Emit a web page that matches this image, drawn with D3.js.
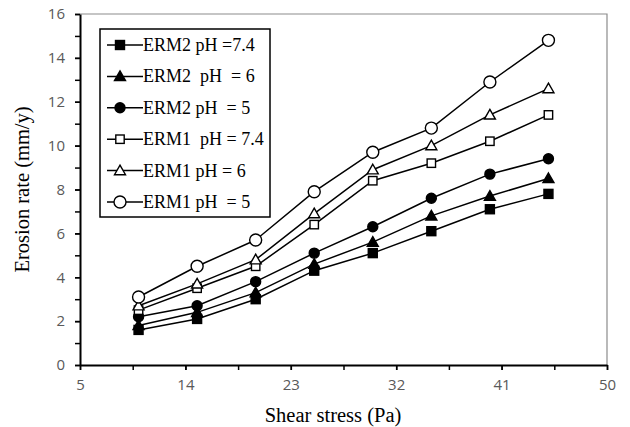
<!DOCTYPE html>
<html>
<head>
<meta charset="utf-8">
<script src="https://cdn.jsdelivr.net/npm/d3@7"></script>
<style>
  body { margin: 0; background: #fff; }
  svg { display: block; }
  .tick text { font-family: "Open Sans", "Liberation Sans", sans-serif; font-size: 15px; fill: #595959; }
</style>
</head>
<body>
<div id="root"></div>
<script>
let shear = [10, 15, 20, 25, 30, 35, 40, 45];

let erm2ph74 = [1.6, 2.1, 3.0, 4.3, 5.1, 6.1, 7.1, 7.8];
let erm2ph6  = [1.8, 2.4, 3.3, 4.6, 5.6, 6.8, 7.7, 8.5];
let erm2ph5  = [2.2, 2.7, 3.8, 5.1, 6.3, 7.6, 8.7, 9.4];
let erm1ph74 = [2.5, 3.5, 4.5, 6.4, 8.4, 9.2, 10.2, 11.4];
let erm1ph6  = [2.7, 3.7, 4.8, 6.9, 8.9, 10.0, 11.4, 12.6];
let erm1ph5  = [3.1, 4.5, 5.7, 7.9, 9.7, 10.8, 12.9, 14.8];

let xTicks = [5, 14, 23, 32, 41, 50];
let yTicks = [0, 2, 4, 6, 8, 10, 12, 14, 16];

let series = [
    {name: 'ERM2 pH =7.4', values: erm2ph74, shape: 'square', filled: true},
    {name: 'ERM2  pH  = 6', values: erm2ph6, shape: 'triangle', filled: true},
    {name: 'ERM2 pH  = 5', values: erm2ph5, shape: 'circle', filled: true},
    {name: 'ERM1  pH = 7.4', values: erm1ph74, shape: 'square', filled: false},
    {name: 'ERM1 pH = 6', values: erm1ph6, shape: 'triangle', filled: false},
    {name: 'ERM1 pH  = 5', values: erm1ph5, shape: 'circle', filled: false},
];

let width = 630, height = 427;
let margin = {left: 80, right: 23, top: 14, bottom: 62};

let x = d3.scaleLinear().domain([5, 50]).range([margin.left, width - margin.right]);
let y = d3.scaleLinear().domain([0, 16]).range([height - margin.bottom, margin.top]);

let svg = d3.select('#root').append('svg')
    .attr('width', width)
    .attr('height', height);

// plot frame (top / right in grey)
svg.append('path')
    .attr('d', `M${x(5)},${y(16)}H${x(50)}V${y(0)}`)
    .attr('fill', 'none')
    .attr('stroke', '#8c8c8c')
    .attr('stroke-width', 1.2);

// minor ticks
let xMinor = d3.range(5, 50.1, 4.5);
let yMinor = d3.range(0, 16.1, 1);

svg.append('g')
    .attr('transform', `translate(0,${y(0)})`)
    .call(d3.axisBottom(x).tickValues(xMinor).tickSize(5).tickFormat(''))
    .call(g => g.select('.domain').remove())
    .selectAll('line').attr('stroke', '#000').attr('stroke-width', 1.5);

svg.append('g')
    .attr('transform', `translate(${x(5)},0)`)
    .call(d3.axisLeft(y).tickValues(yMinor).tickSize(5).tickFormat(''))
    .call(g => g.select('.domain').remove())
    .selectAll('line').attr('stroke', '#000').attr('stroke-width', 1.5);

// major axes
let xAxis = svg.append('g')
    .attr('transform', `translate(0,${y(0)})`)
    .call(d3.axisBottom(x).tickValues(xTicks).tickSize(5).tickSizeOuter(0).tickPadding(9));
xAxis.select('.domain').attr('stroke', '#000').attr('stroke-width', 2);
xAxis.selectAll('line').attr('stroke', '#000').attr('stroke-width', 1.5);

let yAxis = svg.append('g')
    .attr('transform', `translate(${x(5)},0)`)
    .call(d3.axisLeft(y).tickValues(yTicks).tickSize(5).tickSizeOuter(0).tickPadding(10));
yAxis.select('.domain').attr('stroke', '#000').attr('stroke-width', 2);
yAxis.selectAll('line').attr('stroke', '#000').attr('stroke-width', 1.5);

// axis titles
svg.append('text')
    .attr('x', 333)
    .attr('y', 422)
    .attr('text-anchor', 'middle')
    .style('font-family', '"Liberation Serif", "Times New Roman", serif')
    .style('font-size', '20.5px')
    .text('Shear stress (Pa)');

svg.append('text')
    .attr('transform', `translate(29,${(y(0) + y(16)) / 2}) rotate(-90)`)
    .attr('text-anchor', 'middle')
    .style('font-family', '"Liberation Serif", "Times New Roman", serif')
    .style('font-size', '20.5px')
    .text('Erosion rate (mm/y)');

function drawMarker(sel, s) {
    let fill = s.filled ? '#000' : '#fff';
    if (s.shape === 'square') {
        let r = s.filled ? 4.5 : 4.2;
        sel.append('rect')
            .attr('x', -r).attr('y', -r)
            .attr('width', 2 * r).attr('height', 2 * r)
            .attr('fill', fill).attr('stroke', '#000').attr('stroke-width', 1.4);
    } else if (s.shape === 'triangle') {
        let r = 5.5;
        sel.append('path')
            .attr('d', `M0,${-r}L${r},${r * 0.75}L${-r},${r * 0.75}Z`)
            .attr('fill', fill).attr('stroke', '#000').attr('stroke-width', 1.4);
    } else {
        let r = s.filled ? 5 : 6;
        sel.append('circle')
            .attr('r', r)
            .attr('fill', fill).attr('stroke', '#000').attr('stroke-width', 1.4);
    }
}

let line = d3.line()
    .x((d, i) => x(shear[i]))
    .y(d => y(d));

let seriesG = svg.append('g');

series.forEach(s => {
    seriesG.append('path')
        .attr('d', line(s.values))
        .attr('fill', 'none')
        .attr('stroke', '#000')
        .attr('stroke-width', 1.5);
});

series.forEach(s => {
    seriesG.selectAll(null)
        .data(s.values)
        .enter()
        .append('g')
        .attr('transform', (d, i) => `translate(${x(shear[i])},${y(d)})`)
        .each(function () { drawMarker(d3.select(this), s); });
});

// legend
let legend = svg.append('g').attr('transform', 'translate(100,29)');

legend.append('rect')
    .attr('width', 170)
    .attr('height', 188)
    .attr('fill', '#fff')
    .attr('stroke', '#000')
    .attr('stroke-width', 1.5);

let item = legend.selectAll('g.item')
    .data(series)
    .enter()
    .append('g')
    .attr('class', 'item')
    .attr('transform', (d, i) => `translate(0,${16 + i * 31.4})`);

item.append('line')
    .attr('x1', 7).attr('x2', 43)
    .attr('stroke', '#000')
    .attr('stroke-width', 1.5);

item.append('g')
    .attr('transform', 'translate(20,0)')
    .each(function (d) { drawMarker(d3.select(this), d); });

item.append('text')
    .attr('x', 43)
    .attr('y', 6)
    .style('font-family', '"Liberation Serif", "Times New Roman", serif')
    .style('font-size', '18px')
    .style('white-space', 'pre')
    .text(d => d.name);
</script>
</body>
</html>
